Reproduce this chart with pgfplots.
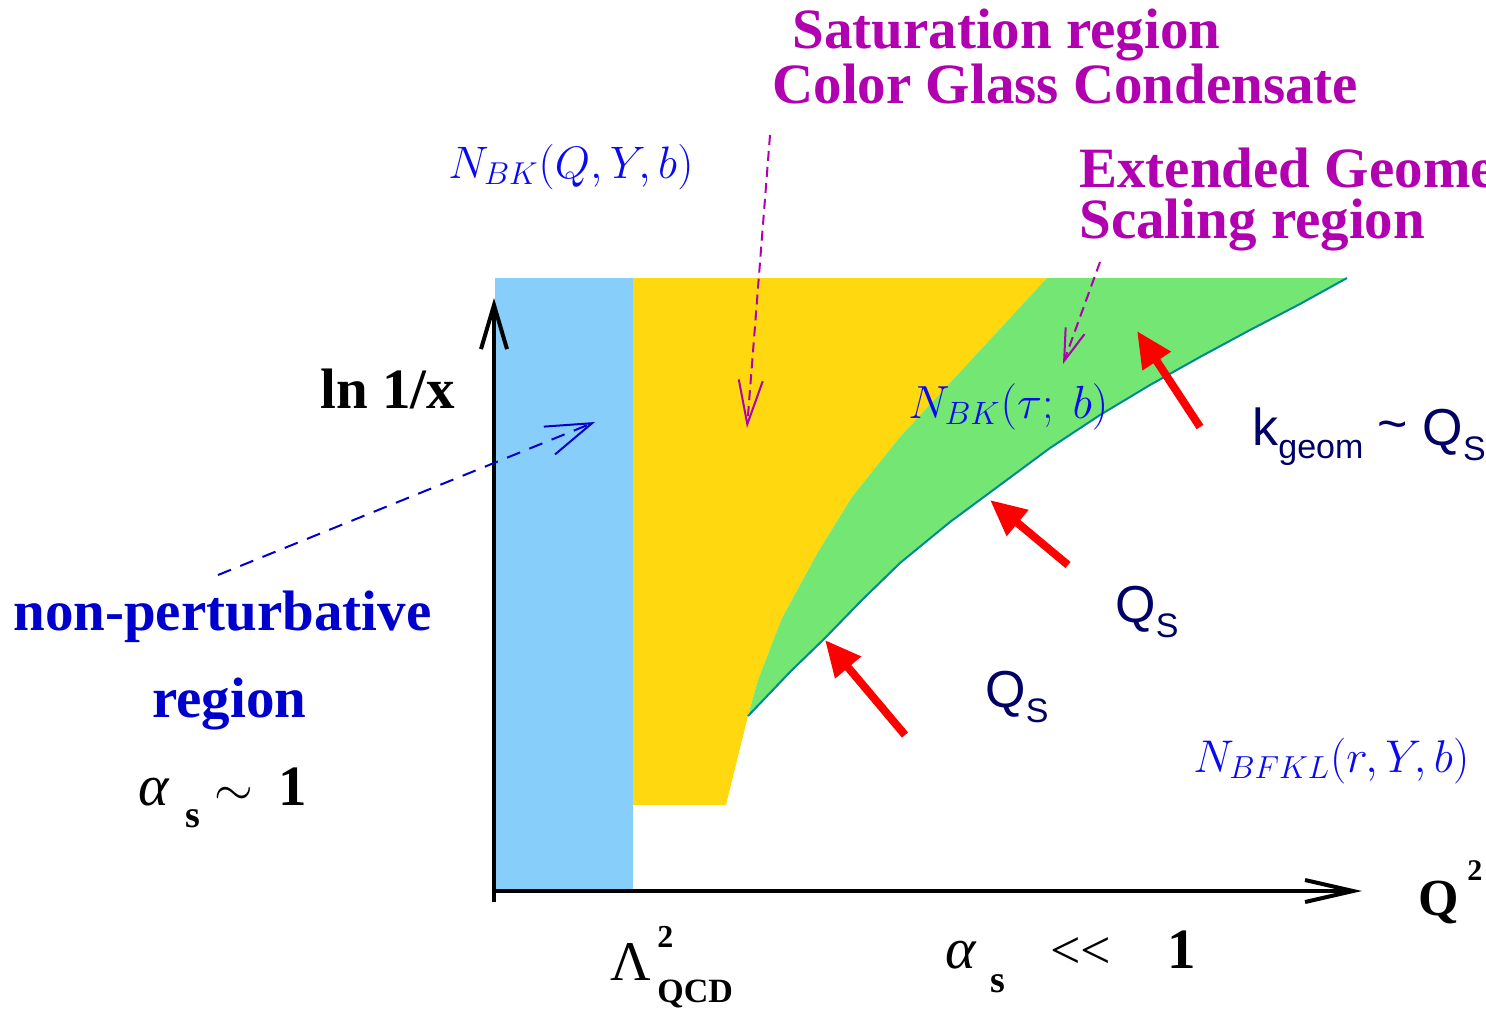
\documentclass[border=0pt]{standalone}
\usepackage{pgfplots}
\pgfplotsset{compat=1.18}
\usetikzlibrary{arrows.meta}
\usepackage{fontspec}
\setmainfont{Liberation Serif}
\setsansfont{Liberation Sans}
\definecolor{skyb}{RGB}{135,206,250}
\definecolor{goldc}{RGB}{255,216,16}
\definecolor{grn}{RGB}{115,230,115}
\definecolor{tealc}{RGB}{0,140,140}
\definecolor{mag}{RGB}{176,0,176}
\definecolor{bl}{RGB}{10,10,240}
\definecolor{npb}{RGB}{0,0,205}
\definecolor{navyc}{RGB}{0,0,102}
\newcommand{\bigbf}{\fontsize{28.5}{30}\selectfont\bfseries}
\begin{document}
\begin{tikzpicture}
\useasboundingbox (0,0) rectangle (743pt,504pt);
\clip (0,0) rectangle (743pt,504pt);
\begin{axis}[at={(0,0)},anchor=south west,width=743pt,height=504pt,scale only axis,
  xmin=0,xmax=1486,ymin=0,ymax=1008,y dir=reverse,hide axis,clip=false]
% regions
\addplot[draw=none,fill=skyb] coordinates {(495,278)(633,278)(633,889)(495,889)} --cycle;
\addplot[draw=none,fill=goldc] coordinates {(633,278)(1047,278)(900,437)(852,497)(818,552)(782,618)(758,680)(748,716)(726,805)(633,805)} --cycle;
\addplot[draw=none,fill=grn] coordinates {(1047,278)(1347,278)(1300,304)(1250,330)(1200,357)(1150,385)(1100,415)(1050,448)(1000,485)(950,522)(900,563)(862,600)(825,638)(790,672)(748,716)(758,680)(782,618)(818,552)(852,497)(900,437)} --cycle;
\addplot[tealc,line width=1pt] coordinates {(748,716)(790,672)(825,638)(862,600)(900,563)(950,522)(1000,485)(1050,448)(1100,415)(1150,385)(1200,357)(1250,330)(1300,304)(1347,278)};
% axes
\addplot[black,line width=2pt,-{Straight Barb[length=22pt,width=13pt]}] coordinates {(494,902)(494,298)};
\addplot[black,line width=2pt,-{Straight Barb[length=24pt,width=11pt]}] coordinates {(494,891)(1362,891)};
% dashed arrows
\addplot[mag,line width=1pt,dash pattern=on 5pt off 3pt,-{Straight Barb[length=22pt,width=12pt]}] coordinates {(770,135)(747,428)};
\addplot[mag,line width=1pt,dash pattern=on 5pt off 3pt,-{Straight Barb[length=16pt,width=10pt]}] coordinates {(1100,262)(1063,364)};
\addplot[npb,line width=1pt,dash pattern=on 7pt off 5pt,-{Straight Barb[length=23pt,width=15pt]}] coordinates {(218,575)(595,422)};
% red arrows
\addplot[red,line width=4pt,-{Triangle[length=18pt,width=16pt]}] coordinates {(1200,427)(1137,331)};
\addplot[red,line width=4pt,-{Triangle[length=18pt,width=16pt]}] coordinates {(1068,565)(990,500)};
\addplot[red,line width=4pt,-{Triangle[length=18pt,width=16pt]}] coordinates {(905,735)(825,640)};
% texts
\node[anchor=base west,inner sep=0,text=mag,font=\bigbf] at (axis cs:792,48) {Saturation region};
\node[anchor=base west,inner sep=0,text=mag,font=\bigbf] at (axis cs:772,103) {Color Glass Condensate};
\node[anchor=base west,inner sep=0,text=mag,font=\bigbf] at (axis cs:1079,187) {Extended Geometric};
\node[anchor=base west,inner sep=0,text=mag,font=\bigbf] at (axis cs:1079,238) {Scaling region};
\node[anchor=base west,inner sep=0,text=bl,font=\fontsize{24}{26}\selectfont] at (axis cs:448,178) {\resizebox{122.5pt}{!}{$N_{BK}(Q,Y,b)$}};
\node[anchor=base west,inner sep=0,text=bl,font=\fontsize{24}{26}\selectfont] at (axis cs:908,418) {\resizebox{100pt}{!}{$N_{BK}(\tau;\ b)$}};
\node[anchor=base west,inner sep=0,text=bl,font=\fontsize{24}{26}\selectfont] at (axis cs:1193,772) {\resizebox{138pt}{!}{$N_{BFKL}(r,Y,b)$}};
\node[anchor=base west,inner sep=0,text=black,font=\bigbf] at (axis cs:320,408) {ln 1/x};
\node[anchor=base west,inner sep=0,text=navyc,font=\fontsize{26}{27}\selectfont\sffamily] at (axis cs:1252,445) {k\raisebox{-6.5pt}{\fontsize{17}{17}\selectfont geom} \raisebox{2pt}{\char"007E} Q\raisebox{-7.5pt}{\fontsize{17}{17}\selectfont S}};
\node[anchor=base west,inner sep=0,text=navyc,font=\fontsize{26}{27}\selectfont\sffamily] at (axis cs:1115,622) {Q\raisebox{-7.5pt}{\fontsize{17}{17}\selectfont S}};
\node[anchor=base west,inner sep=0,text=navyc,font=\fontsize{26}{27}\selectfont\sffamily] at (axis cs:985,707) {Q\raisebox{-7.5pt}{\fontsize{17}{17}\selectfont S}};
\node[anchor=base west,inner sep=0,text=npb,font=\bigbf] at (axis cs:13,630) {non-perturbative};
\node[anchor=base west,inner sep=0,text=npb,font=\bigbf] at (axis cs:152,717) {region};
% alpha_s ~ 1
\node[anchor=base west,inner sep=0,font=\fontsize{29}{30}\selectfont\itshape] at (axis cs:138,805) {α};
\node[anchor=base west,inner sep=0,font=\fontsize{19}{20}\selectfont\bfseries] at (axis cs:185,827) {s};
\node[anchor=base west,inner sep=0,font=\fontsize{24}{25}\selectfont] at (axis cs:214,805) {$\sim$};
\node[anchor=base west,inner sep=0,font=\bigbf] at (axis cs:278,805) {1};
% Lambda QCD
\node[anchor=base west,inner sep=0,font=\fontsize{28}{29}\selectfont] at (axis cs:610,980) {Λ};
\node[anchor=base west,inner sep=0,font=\fontsize{16}{17}\selectfont\bfseries] at (axis cs:657,947) {2};
\node[anchor=base west,inner sep=0,font=\fontsize{17}{18}\selectfont\bfseries] at (axis cs:657,1002) {QCD};
% alpha_s << 1
\node[anchor=base west,inner sep=0,font=\fontsize{29}{30}\selectfont\itshape] at (axis cs:945,968) {α};
\node[anchor=base west,inner sep=0,font=\fontsize{19}{20}\selectfont\bfseries] at (axis cs:990,992) {s};
\node[anchor=base west,inner sep=0,font=\fontsize{27}{28}\selectfont] at (axis cs:1050,968) {\hbox{<}\hbox{<}};
\node[anchor=base west,inner sep=0,font=\bigbf] at (axis cs:1167,968) {1};
% Q^2
\node[anchor=base west,inner sep=0,font=\fontsize{26}{27}\selectfont\bfseries] at (axis cs:1418,915) {Q};
\node[anchor=base west,inner sep=0,font=\fontsize{15}{16}\selectfont\bfseries] at (axis cs:1467,880) {2};
\end{axis}
\end{tikzpicture}
\end{document}
